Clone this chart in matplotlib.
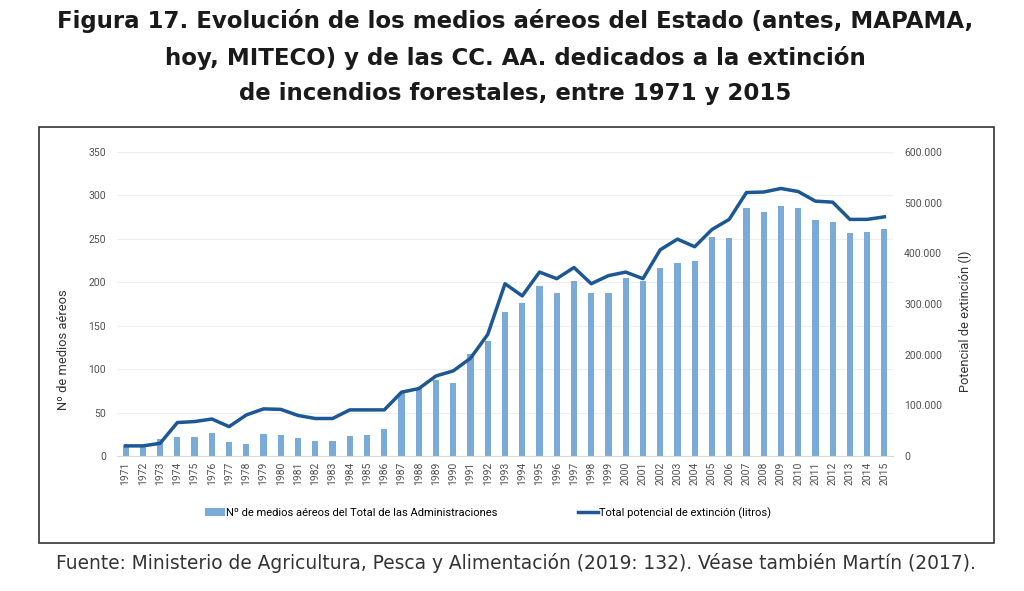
import matplotlib.pyplot as plt
from matplotlib.patches import Rectangle
from matplotlib.ticker import FuncFormatter

anios = list(range(1971, 2016))
medios = [13, 12, 20, 22, 22, 26, 16, 14, 25, 24, 21, 17, 17, 23, 24, 31,
          72, 78, 87, 84, 118, 132, 166, 176, 196, 188, 201, 188, 188, 205,
          201, 217, 222, 224, 252, 251, 285, 281, 288, 286, 272, 269, 257,
          258, 261]
potencial = [20000, 20000, 25000, 66000, 68000, 73000, 58000, 81000, 93000,
             92000, 80000, 74000, 74000, 91000, 91000, 91000, 126000, 133000,
             158000, 168000, 193000, 240000, 340000, 316000, 363000, 350000,
             372000, 340000, 356000, 363000, 350000, 407000, 428000, 413000,
             447000, 467000, 520000, 521000, 528000, 522000, 503000, 501000,
             467000, 467000, 472000]

titulo = ("Figura 17. Evolución de los medios aéreos del Estado (antes, MAPAMA,\n"
          "hoy, MITECO) y de las CC. AA. dedicados a la extinción\n"
          "de incendios forestales, entre 1971 y 2015")
fuente = "Fuente: Ministerio de Agricultura, Pesca y Alimentación (2019: 132). Véase también Martín (2017)."

plt.rcParams['font.family'] = ['Roboto', 'DejaVu Sans']

fig = plt.figure(figsize=(10.24, 5.91), dpi=100)
ax = fig.add_axes([117 / 1024, 1 - 456 / 591, 776 / 1024, 304 / 591])
ax2 = ax.twinx()

x = list(range(len(anios)))
barras = ax.bar(x, medios, width=0.36, color='#7aaad8', zorder=2,
                label='Nº de medios aéreos del Total de las Administraciones')
linea, = ax2.plot(x, potencial, color='#1c5796', linewidth=2.5, zorder=3,
                  label='Total potencial de extinción (litros)')

ax.set_xlim(-0.5, len(anios) - 0.5)
ax.set_ylim(0, 350)
ax.set_yticks(range(0, 351, 50))
ax2.set_ylim(0, 600000)
ax2.set_yticks(range(0, 600001, 100000))
ax2.yaxis.set_major_formatter(FuncFormatter(lambda v, p: '0' if v == 0 else f'{int(v):,}'.replace(',', '.')))

ax.set_xticks(x)
ax.set_xticklabels([str(a) for a in anios], rotation=90, fontsize=7, color='#404040')
ax.grid(axis='y', color='#eeeeee', linewidth=0.8, zorder=0)
ax.set_axisbelow(True)

for a in (ax, ax2):
    for s in a.spines.values():
        s.set_visible(False)
    a.tick_params(length=0, colors='#505050', labelsize=7.5)
ax.spines['bottom'].set_visible(True)
ax.spines['bottom'].set_color('#d9d9d9')
ax.tick_params(axis='x', pad=4)
ax.tick_params(axis='y', pad=8)
ax2.tick_params(axis='y', pad=8)

ax.set_ylabel('Nº de medios aéreos', fontsize=9.3, color='#333333')
ax2.set_ylabel('Potencial de extinción (l)', fontsize=9.3, color='#333333')
ax.yaxis.set_label_coords(-0.0606, 0.349)
ax2.yaxis.set_label_coords(1.084, 0.444)

# leyenda
fig.legend(handles=[barras, linea], loc='center', bbox_to_anchor=(488 / 1024, 1 - 513 / 591),
           ncol=2, frameon=False, fontsize=8, columnspacing=7.2, handlelength=1.8,
           handletextpad=0.1)

fig.patches.append(Rectangle((39 / 1024, 1 - 543 / 591), 955 / 1024, 416 / 591,
                             transform=fig.transFigure, fill=False,
                             edgecolor='#333333', linewidth=1.2))

fig.text(515 / 1024, 1 - 57 / 591, titulo, ha='center', va='center', fontsize=16.5,
         fontweight='bold', family=['DejaVu Sans'], color='#1a1a1a',
         linespacing=1.68)
fig.text(516 / 1024, 1 - 563 / 591, fuente, ha='center', va='center', fontsize=13.4,
         family=['DejaVu Sans'], color='#333333')

fig.savefig('out.png', dpi=100)
